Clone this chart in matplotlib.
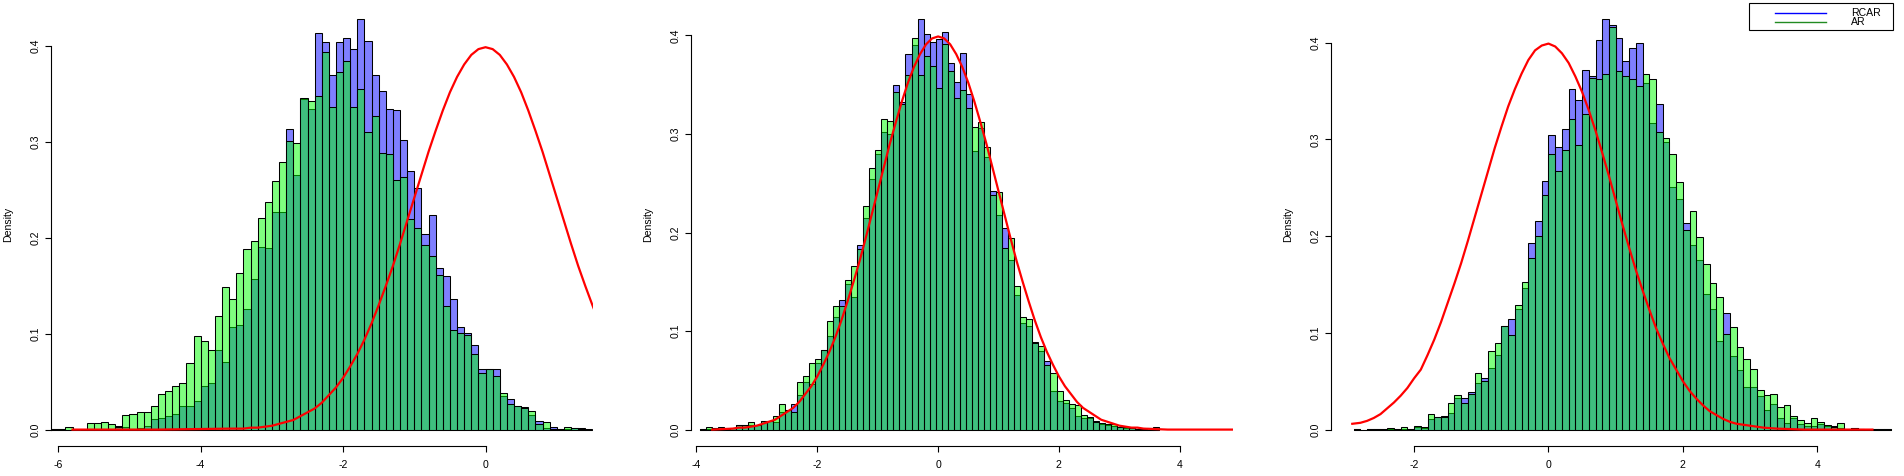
import numpy as np
import matplotlib
matplotlib.use("Agg")
import matplotlib.pyplot as plt
from matplotlib.patches import Rectangle
from matplotlib.lines import Line2D

plt.rcParams['font.family'] = ['Liberation Sans', 'DejaVu Sans']
plt.rcParams['axes.unicode_minus'] = False

W, H = 1904, 476
BIN_WIDTH = 0.1
FS = 7.6

# ---- panel 1 : densities per bin, bins start at P1_START ----
P1_START = -6.1
P1_RCAR = [0.001, 0.001, 0.0, 0.0, 0.0, 0.0, 0.0, 0.0, 0.0, 0.004,
           0.003, 0.001, 0.002, 0.004, 0.011, 0.012, 0.014, 0.016, 0.025, 0.025,
           0.030, 0.045, 0.049, 0.083, 0.071, 0.107, 0.109, 0.126, 0.157, 0.191,
           0.189, 0.2275, 0.2275, 0.314, 0.266, 0.345, 0.335, 0.4136, 0.404, 0.3697,
           0.404, 0.409, 0.397, 0.428, 0.405, 0.3697, 0.353, 0.334, 0.333, 0.302,
           0.270, 0.2526, 0.2045, 0.2244, 0.169, 0.1606, 0.1366, 0.107, 0.101, 0.0885,
           0.0634, 0.063, 0.0635, 0.035, 0.032, 0.025, 0.024, 0.0157, 0.009, 0.002,
           0.003, 0.001, 0.001, 0.002, 0.002, 0.001]
P1_AR = [0.001, 0.001, 0.003, 0.0, 0.0, 0.007, 0.007, 0.008, 0.006, 0.003,
         0.015, 0.016, 0.018, 0.018, 0.025, 0.037, 0.040, 0.046, 0.049, 0.069,
         0.098, 0.092, 0.083, 0.119, 0.149, 0.136, 0.163, 0.188, 0.197, 0.221,
         0.237, 0.259, 0.279, 0.301, 0.2986, 0.346, 0.3425, 0.3477, 0.394, 0.337,
         0.3728, 0.3843, 0.337, 0.355, 0.310, 0.3268, 0.289, 0.288, 0.260, 0.264,
         0.220, 0.2108, 0.193, 0.1815, 0.1617, 0.129, 0.104, 0.101, 0.099, 0.079,
         0.059, 0.063, 0.056, 0.038, 0.027, 0.025, 0.023, 0.019, 0.006, 0.008,
         0.001, 0.001, 0.003, 0.002, 0.001, 0.0]
P1_CURVE_X = [-5.8, -4.6, -3.6, -3.5, -3.4, -3.3, -3.2, -3.1, -3.0, -2.9, -2.8,
              -2.7, -2.6, -2.5, -2.4, -2.3, -2.2, -2.1, -2.0, -1.9, -1.8, -1.7,
              -1.6, -1.5, -1.4, -1.3, -1.2, -1.1, -1.0, -0.9, -0.8, -0.7, -0.6,
              -0.5, -0.4, -0.3, -0.2, -0.1, 0.0, 0.1, 0.2, 0.3, 0.4, 0.5, 0.6,
              0.7, 0.8, 0.9, 1.0, 1.1, 1.2, 1.3, 1.4, 1.5, 1.6]
P1_CURVE_Y = [0.000, 0.000, 0.001, 0.001, 0.001, 0.002, 0.002, 0.003, 0.004, 0.006, 0.008,
              0.010, 0.014, 0.018, 0.022, 0.028, 0.036, 0.044, 0.054, 0.066, 0.079, 0.094,
              0.111, 0.130, 0.150, 0.171, 0.194, 0.218, 0.242, 0.266, 0.290, 0.312, 0.333,
              0.352, 0.368, 0.381, 0.391, 0.397, 0.399, 0.397, 0.391, 0.381, 0.368, 0.352, 0.333,
              0.312, 0.290, 0.266, 0.242, 0.218, 0.194, 0.171, 0.150, 0.130, 0.111]
P1_XTICKS = [-6, -4, -2, 0]

# ---- panel 2 ----
P2_START = -3.94
P2_RCAR = [0.001, 0.001, 0.002, 0.001, 0.001, 0.002, 0.005, 0.005, 0.005, 0.005,
           0.009, 0.009, 0.008, 0.018, 0.020, 0.026, 0.035, 0.0484, 0.0464, 0.0678,
           0.081, 0.095, 0.1145, 0.1318, 0.148, 0.1348, 0.1877, 0.215, 0.2547, 0.280,
           0.3025, 0.2995, 0.350, 0.332, 0.381, 0.390, 0.4163, 0.401, 0.393, 0.396,
           0.404, 0.3716, 0.353, 0.3818, 0.341, 0.283, 0.3056, 0.277, 0.2425, 0.218,
           0.205, 0.1724, 0.1369, 0.1084, 0.1054, 0.0891, 0.080, 0.0698, 0.0393, 0.0291,
           0.027, 0.022, 0.0139, 0.0119, 0.012, 0.0088, 0.0058, 0.0047, 0.0037, 0.0027,
           0.002, 0.0017, 0.001, 0.0005, 0.0017, 0.0005]
P2_AR = [0.001, 0.003, 0.002, 0.003, 0.001, 0.002, 0.005, 0.005, 0.008, 0.005,
         0.009, 0.009, 0.014, 0.026, 0.020, 0.018, 0.0484, 0.0545, 0.0678, 0.0718,
         0.081, 0.110, 0.1257, 0.1257, 0.152, 0.1663, 0.1836, 0.2273, 0.265, 0.2842,
         0.3157, 0.3127, 0.343, 0.330, 0.3594, 0.397, 0.3594, 0.3787, 0.3686, 0.347,
         0.391, 0.364, 0.337, 0.345, 0.326, 0.3076, 0.3117, 0.287, 0.2385, 0.2415,
         0.1846, 0.1948, 0.146, 0.1145, 0.1125, 0.088, 0.085, 0.0657, 0.0576, 0.0393,
         0.030, 0.026, 0.025, 0.0149, 0.0129, 0.0075, 0.0068, 0.0058, 0.0058, 0.0027,
         0.0027, 0.0017, 0.001, 0.001, 0.0017, 0.0027]
P2_CURVE_X = [-3.74, -3.4, -3.3, -3.2, -3.1, -3.0, -2.9, -2.8, -2.7, -2.6, -2.5,
              -2.4, -2.3, -2.2, -2.1, -2.0, -1.9, -1.8, -1.7, -1.6, -1.5, -1.4,
              -1.3, -1.2, -1.1, -1.0, -0.9, -0.8, -0.7, -0.6, -0.5, -0.4, -0.3,
              -0.2, -0.1, 0.0, 0.1, 0.2, 0.3, 0.4, 0.5, 0.6, 0.7, 0.8, 0.9,
              1.0, 1.1, 1.2, 1.3, 1.4, 1.5, 1.6, 1.7, 1.8, 1.9, 2.0, 2.1,
              2.2, 2.3, 2.4, 2.5, 2.6, 2.7, 2.8, 2.9, 3.0, 3.1, 3.2, 3.3,
              3.4, 3.8, 4.9]
P2_CURVE_Y = [0.000, 0.001, 0.002, 0.002, 0.003, 0.004, 0.006, 0.008, 0.010, 0.014, 0.018,
              0.022, 0.028, 0.036, 0.044, 0.054, 0.066, 0.079, 0.094, 0.111, 0.130, 0.150,
              0.171, 0.194, 0.218, 0.242, 0.266, 0.290, 0.312, 0.333, 0.352, 0.368, 0.381,
              0.391, 0.397, 0.399, 0.397, 0.391, 0.381, 0.368, 0.352, 0.333, 0.312, 0.290, 0.266,
              0.242, 0.218, 0.194, 0.171, 0.150, 0.130, 0.111, 0.094, 0.079, 0.066, 0.054, 0.044,
              0.036, 0.028, 0.022, 0.018, 0.014, 0.010, 0.008, 0.006, 0.004, 0.003, 0.002, 0.002,
              0.001, 0.000, 0.000]
P2_XTICKS = [-4, -2, 0, 2, 4]

# ---- panel 3 ----
P3_START = -2.9
P3_RCAR = [0.001, 0.0, 0.0005, 0.0005, 0.0005, 0.0007, 0.0005, 0.001, 0.0007, 0.0024,
           0.0017, 0.011, 0.013, 0.0145, 0.017, 0.0328, 0.0324, 0.0393, 0.0483, 0.053,
           0.064, 0.0766, 0.1066, 0.1141, 0.125, 0.1466, 0.1932, 0.2155, 0.2572, 0.3048,
           0.2924, 0.3107, 0.3521, 0.341, 0.372, 0.3652, 0.4028, 0.424, 0.4186, 0.405,
           0.381, 0.394, 0.400, 0.3586, 0.317, 0.337, 0.2976, 0.251, 0.2386, 0.2138,
           0.191, 0.1755, 0.1403, 0.1248, 0.0917, 0.1207, 0.0762, 0.0617, 0.0441, 0.0441,
           0.0348, 0.0203, 0.0266, 0.0121, 0.0069, 0.0121, 0.0059, 0.0038, 0.0038, 0.0059,
           0.0038, 0.0038, 0.0017, 0.0005, 0.0017, 0.0005, 0.0, 0.0005, 0.001, 0.0005]
P3_AR = [0.001, 0.0, 0.0005, 0.0005, 0.0005, 0.002, 0.0005, 0.0024, 0.0007, 0.0038,
         0.003, 0.0162, 0.013, 0.013, 0.0276, 0.0362, 0.0276, 0.037, 0.059, 0.0505,
         0.0817, 0.0893, 0.1066, 0.0979, 0.1293, 0.1524, 0.177, 0.200, 0.2428, 0.2852,
         0.2669, 0.2886, 0.3207, 0.2941, 0.3266, 0.3634, 0.3628, 0.368, 0.416, 0.371,
         0.365, 0.362, 0.3555, 0.368, 0.3628, 0.308, 0.3017, 0.2852, 0.2562, 0.2066,
         0.2262, 0.1993, 0.1714, 0.1517, 0.1372, 0.099, 0.1062, 0.0855, 0.0731, 0.0628,
         0.041, 0.0359, 0.0369, 0.0234, 0.0255, 0.0141, 0.010, 0.0069, 0.0121, 0.0079,
         0.0048, 0.0028, 0.0069, 0.0005, 0.0017, 0.0005, 0.0, 0.0005, 0.001, 0.0005]
P3_CURVE_X = [-2.92, -2.8, -2.7, -2.6, -2.5, -2.4, -2.3, -2.2, -2.1, -2.0, -1.9,
              -1.8, -1.7, -1.6, -1.5, -1.4, -1.3, -1.2, -1.1, -1.0, -0.9, -0.8,
              -0.7, -0.6, -0.5, -0.4, -0.3, -0.2, -0.1, 0.0, 0.1, 0.2, 0.3,
              0.4, 0.5, 0.6, 0.7, 0.8, 0.9, 1.0, 1.1, 1.2, 1.3, 1.4, 1.5,
              1.6, 1.7, 1.8, 1.9, 2.0, 2.1, 2.2, 2.3, 2.4, 2.5, 2.6, 2.7,
              2.8, 2.9, 3.0, 3.2, 3.4, 3.8, 4.82]
P3_CURVE_Y = [0.006, 0.007, 0.009, 0.012, 0.016, 0.022, 0.028, 0.035, 0.043, 0.053, 0.062,
              0.077, 0.093, 0.111, 0.131, 0.151, 0.172, 0.195, 0.219, 0.243, 0.267, 0.291,
              0.313, 0.334, 0.352, 0.368, 0.382, 0.392, 0.397, 0.399, 0.396, 0.389, 0.379,
              0.365, 0.349, 0.330, 0.309, 0.286, 0.262, 0.237, 0.212, 0.188, 0.165, 0.144, 0.124,
              0.105, 0.089, 0.074, 0.062, 0.050, 0.040, 0.032, 0.025, 0.019, 0.015, 0.011, 0.008,
              0.006, 0.005, 0.004, 0.002, 0.001, 0.000, 0.000]
P3_XTICKS = [-2, 0, 2, 4]

YTICKS = [0.0, 0.1, 0.2, 0.3, 0.4]
LEGEND_LABELS = ['RCAR', 'AR']
LEGEND_COLORS = ['blue', 'forestgreen']

BLUE = (0, 0, 1, 0.5)
GREEN = (0, 1, 0, 0.5)

fig = plt.figure(figsize=(W / 100, H / 100), dpi=100)


def panel(px_left, px_right, xlim, start, rcar, ar, cx, cy, xticks):
    top, bottom = 3, 446
    ax = fig.add_axes([px_left / W, 1 - bottom / H,
                       (px_right - px_left) / W, (bottom - top) / H])
    edges = start + BIN_WIDTH * np.arange(len(rcar))
    ax.bar(edges, rcar, width=BIN_WIDTH, align='edge', color=BLUE,
           edgecolor='black', linewidth=0.75)
    ax.bar(edges, ar, width=BIN_WIDTH, align='edge', color=GREEN,
           edgecolor='black', linewidth=0.75)
    ax.plot(cx, cy, color='red', lw=1.6)

    ymax = max(max(rcar), max(ar))
    ax.set_xlim(*xlim)
    ax.set_ylim(-0.04 * ymax, 1.04 * ymax)

    for s in ('top', 'right'):
        ax.spines[s].set_visible(False)
    ax.spines['left'].set_bounds(0, 0.4)
    ax.spines['bottom'].set_bounds(xticks[0], xticks[-1])
    for s in ('left', 'bottom'):
        ax.spines[s].set_linewidth(0.8)

    ax.set_xticks(xticks)
    ax.set_xticklabels([str(t) for t in xticks])
    ax.set_yticks(YTICKS)
    ax.set_yticklabels(['%.1f' % t for t in YTICKS])
    ax.tick_params(axis='both', direction='out', length=4.3, width=0.8,
                   labelsize=FS, color='black')
    ax.tick_params(axis='x', pad=6)
    ax.tick_params(axis='y', pad=3.5, labelrotation=90)
    for lab in ax.get_yticklabels():
        lab.set_va('center')

    ax.text(-43 / (px_right - px_left), 0.5, 'Density', transform=ax.transAxes,
            rotation=90, ha='center', va='center', fontsize=FS)
    return ax


panel(51.3, 593.0, (-6.098, 1.509), P1_START, P1_RCAR, P1_AR,
      P1_CURVE_X, P1_CURVE_Y, P1_XTICKS)
panel(691.3, 1232.7, (-4.086, 4.877), P2_START, P2_RCAR, P2_AR,
      P2_CURVE_X, P2_CURVE_Y, P2_XTICKS)
panel(1331.3, 1893.3, (-3.232, 5.131), P3_START, P3_RCAR, P3_AR,
      P3_CURVE_X, P3_CURVE_Y, P3_XTICKS)

# legend box (top right of third panel)
fig.add_artist(Rectangle((1749.3 / W, 1 - 30 / H), 144 / W, 27.3 / H,
                         transform=fig.transFigure, fill=False,
                         edgecolor='black', lw=0.8))
for i, (lab, col) in enumerate(zip(LEGEND_LABELS, LEGEND_COLORS)):
    yy = 1 - (12.7 + 9.5 * i) / H
    fig.add_artist(Line2D([1775 / W, 1826 / W], [yy, yy], color=col, lw=1.0,
                          transform=fig.transFigure))
    fig.text(1850.7 / W, yy, lab, ha='left', va='center', fontsize=FS)

fig.savefig('out.png', dpi=100)
